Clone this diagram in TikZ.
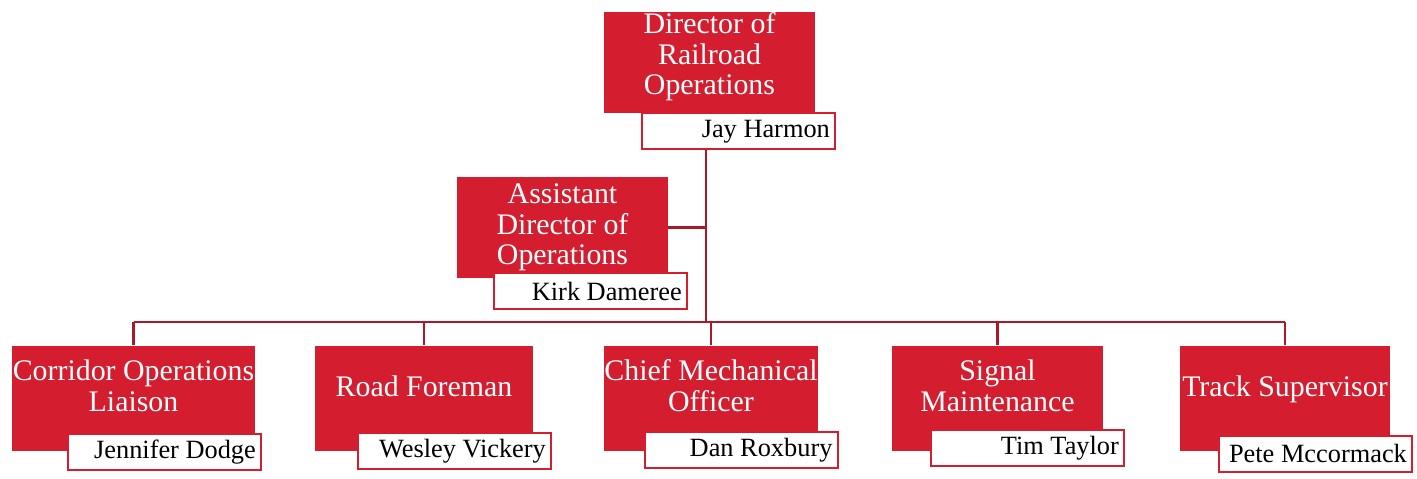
\documentclass[tikz,border=0pt]{standalone}
\usepackage{fontspec}
\setmainfont{Liberation Serif}
\definecolor{boxred}{RGB}{212,30,48}
\definecolor{linered}{RGB}{172,24,42}
\tikzset{
  titlebox/.style={rectangle, fill=boxred, text=white, align=center, inner sep=0pt, minimum height=2.02cm, font=\fontsize{17}{17.5}\selectfont},
  namebox/.style={rectangle, draw=boxred, line width=1.1pt, fill=white, anchor=north east, minimum height=0.72cm, text width=3.64cm, inner xsep=0.11cm, inner ysep=0pt, align=flush right, font=\fontsize{15}{16}\selectfont},
  link/.style={draw=linered, line width=1.3pt}
}
\begin{document}
\begin{tikzpicture}[x=0.02cm, y=-0.02cm]
    \useasboundingbox (0,0) rectangle (1417,478);

    % Boxes
    \node (dir) [titlebox, minimum width=4.22cm, text depth=10pt] at (709.5,62.5) {Director of\\Railroad\\Operations};
    \node (dirname) [namebox] at ([shift={(21,-1)}]dir.south east) {Jay Harmon};
    \node (asst) [titlebox, minimum width=4.22cm] at (562.5,227.5) {Assistant\\Director of\\Operations};
    \node (asstname) [namebox] at ([shift={(20,-6)}]asst.south east) {Kirk Dameree};

    \node (corr) [titlebox, minimum width=4.86cm, minimum height=2.1cm, text depth=14pt] at (133.5,398) {Corridor Operations\\Liaison};
    \node (corrname) [namebox] at ([shift={(7,-18)}]corr.south east) {Jennifer Dodge};
    \node (road) [titlebox, minimum width=4.36cm, minimum height=2.1cm, text depth=14pt] at (424,398) {Road Foreman};
    \node (roadname) [namebox] at ([shift={(19,-19)}]road.south east) {Wesley Vickery};
    \node (chief) [titlebox, minimum width=4.24cm, minimum height=2.1cm, text depth=14pt] at (711,398) {Chief Mechanical\\Officer};
    \node (chiefname) [namebox] at ([shift={(21,-20)}]chief.south east) {Dan Roxbury};
    \node (signal) [titlebox, minimum width=4.22cm, minimum height=2.1cm, text depth=14pt] at (997.5,398) {Signal\\Maintenance};
    \node (signalname) [namebox] at ([shift={(22,-22)}]signal.south east) {Tim Taylor};
    \node (track) [titlebox, minimum width=4.2cm, minimum height=2.1cm, text depth=14pt] at (1285,398) {Track Supervisor};
    \node (trackname) [namebox] at ([shift={(23,-16)}]track.south east) {Pete Mccormack};

    % Lines
    \coordinate (bus) at (706,322);
    \draw[link] (dirname.south -| bus) -- (bus);
    \draw[link] (asst.east) -- (asst.east -| bus);
    \draw[link] (corr.north |- bus) -- (track.north |- bus);
    \foreach \n in {corr,road,chief,signal,track}
        \draw[link] (\n.north) -- (\n.north |- bus);
\end{tikzpicture}
\end{document}
